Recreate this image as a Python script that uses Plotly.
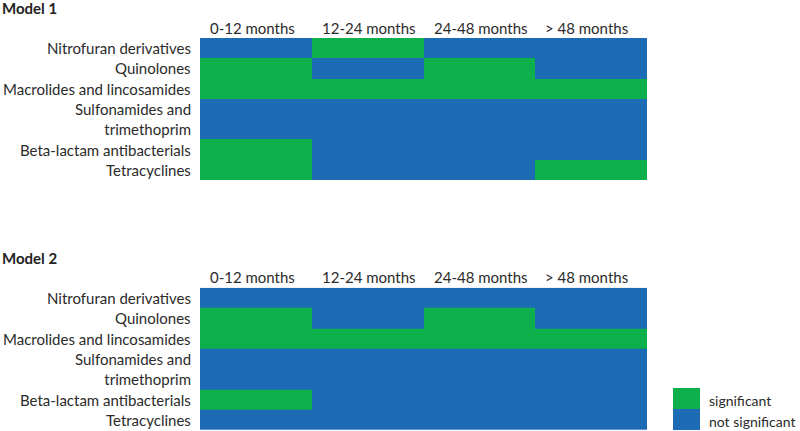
import plotly.graph_objects as go

periods = ["0-12 months", "12-24 months", "24-48 months", "> 48 months"]
classes = ["Nitrofuran derivatives", "Quinolones", "Macrolides and lincosamides",
           "Sulfonamides and<br>trimethoprim", "Beta-lactam antibacterials", "Tetracyclines"]
row_units = [1, 1, 1, 2, 1, 1]  # Sulfonamides row spans two text lines

# 1 = significant, 0 = not significant
model1 = [
    [0, 1, 0, 0],
    [1, 0, 1, 0],
    [1, 1, 1, 1],
    [0, 0, 0, 0],
    [1, 0, 0, 0],
    [1, 0, 0, 1],
]
model2 = [
    [0, 0, 0, 0],
    [1, 0, 1, 0],
    [1, 1, 1, 1],
    [0, 0, 0, 0],
    [1, 0, 0, 0],
    [0, 0, 0, 0],
]
legend_labels = ["significant", "not significant"]

GREEN = "#0DB04B"
BLUE = "#1E6BB5"
FONT = "Lato"
TXT = "#2b2b2b"

W, H = 800, 431
x_edges = list(range(len(periods) + 1))
y_edges = [0]
for u in row_units:
    y_edges.append(y_edges[-1] + u)
y_centers = [(y_edges[i] + y_edges[i + 1]) / 2 for i in range(len(classes))]

colorscale = [[0, BLUE], [0.5, BLUE], [0.5, GREEN], [1, GREEN]]

fig = go.Figure()
grid_x = [200 / W, 647 / W]
panels = [
    ("Model 1", model1, "x", "y", [1 - 180 / H, 1 - 38 / H], 1 - 8 / H, 1 - 28 / H),
    ("Model 2", model2, "x2", "y2", [1 - 430 / H, 1 - 287.7 / H], 1 - 258 / H, 1 - 277 / H),
]
layout_axes = {}
annotations = []
for i, (title, z, xa, ya, ydom, title_y, head_y) in enumerate(panels):
    fig.add_trace(go.Heatmap(z=z, x=x_edges, y=y_edges, xaxis=xa, yaxis=ya,
                             colorscale=colorscale, zmin=0, zmax=1, showscale=False,
                             hoverinfo="skip"))
    xk = "xaxis" if i == 0 else "xaxis2"
    yk = "yaxis" if i == 0 else "yaxis2"
    layout_axes[xk] = dict(domain=grid_x, range=[0, len(periods)], showgrid=False,
                           zeroline=False, showticklabels=False, ticks="", fixedrange=True)
    layout_axes[yk] = dict(domain=ydom, range=[y_edges[-1], 0], showgrid=False,
                           zeroline=False, showticklabels=False, ticks="", fixedrange=True)
    annotations.append(dict(text="<b>" + title + "</b>", xref="paper", yref="paper",
                            x=0, y=title_y, xanchor="left", yanchor="middle",
                            showarrow=False, font=dict(family=FONT, size=15, color="#222")))
    for j, p in enumerate(periods):
        annotations.append(dict(text=p, xref=xa, yref="paper", x=x_edges[j], xshift=8,
                                y=head_y, xanchor="left", yanchor="middle", showarrow=False,
                                font=dict(family=FONT, size=15, color=TXT)))
    for c, yc in zip(classes, y_centers):
        annotations.append(dict(text=c, xref="paper", yref=ya, x=grid_x[0], xshift=-7,
                                y=yc, xanchor="right", yanchor="middle", align="right",
                                showarrow=False, font=dict(family=FONT, size=15, color=TXT)))

# legend blocks
shapes = []
leg_colors = [GREEN, BLUE]
for k, (lab, col) in enumerate(zip(legend_labels, leg_colors)):
    top = 388 + 21 * k
    shapes.append(dict(type="rect", xref="paper", yref="paper", x0=673 / W, x1=700 / W,
                       y0=1 - (top + 21) / H, y1=1 - top / H, fillcolor=col, line_width=0))
    annotations.append(dict(text=lab, xref="paper", yref="paper", x=707 / W,
                            y=1 - (top + 12) / H, xanchor="left", yanchor="middle",
                            showarrow=False, font=dict(family=FONT, size=14, color=TXT)))

fig.update_layout(width=W, height=H, margin=dict(l=0, r=0, t=0, b=0),
                  paper_bgcolor="white", plot_bgcolor="white",
                  annotations=annotations, shapes=shapes, **layout_axes)
fig.write_html("out.html", config={"displayModeBar": False},
               post_script="document.body.style.margin='0';document.body.style.overflow='hidden';")
